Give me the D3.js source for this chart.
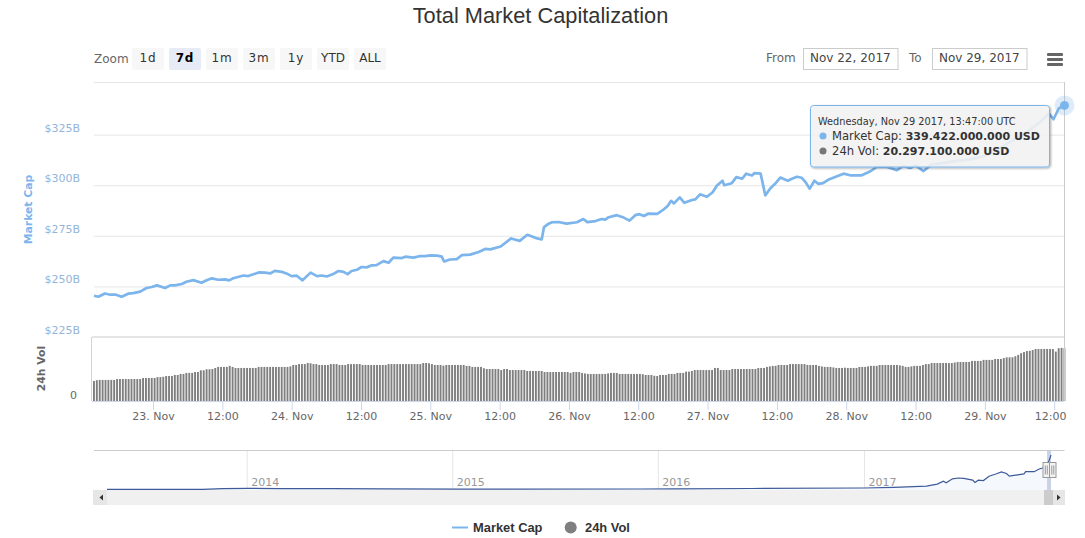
<!DOCTYPE html>
<html>
<head>
<meta charset="utf-8">
<script src="https://cdn.jsdelivr.net/npm/d3@7"></script>
<style>
  body { margin: 0; background: #fff; }
  svg { display: block; }
  text { font-family: "DejaVu Sans", sans-serif; }
</style>
</head>
<body>
<div id="chart"></div>
<script>
// Market cap: hours after the first point, value in $B
const capHours = [
  0, 0.75, 1.9, 2.8, 3.8, 4.8, 5.9, 6.8, 8, 9.1, 10, 10.9, 12.3, 13.2, 14, 15.2, 16, 17.2, 18.6, 19.5,
  20.4, 21.5, 22.7, 23.4, 24.1, 25.9, 26.7, 28.5, 29.6, 30.5, 31.3, 32.5, 33.4, 34.2, 35.1, 36.1, 37.5, 38.6, 39.4, 40.3,
  41.4, 42.3, 43.2, 43.9, 44.6, 45.5, 46.3, 47.2, 48.1, 48.9, 50.1, 51, 51.8, 53.3, 53.9, 55.3, 56.5, 57.3, 58.2, 59.4,
  60.2, 60.6, 61.6, 62.8, 63.7, 65.1, 66.6, 67.7, 68.6, 70.4, 72.2, 73.7, 75, 76.4, 77.5, 77.9, 78.7, 79.3, 80.4, 81.8,
  83.6, 84.7, 85.4, 86.8, 87.9, 88.5, 89.1, 90.5, 91.7, 92.7, 93.7, 94.4, 95.2, 96, 97.5, 98.6, 99.3, 99.9, 100.4, 101.4,
  102.2, 103.5, 104.1, 104.9, 106.1, 107.1, 107.8, 108.8, 109.1, 110.4, 111.2, 112.2, 112.9, 113.9, 114.3, 115.4, 116.2, 117.1, 117.9, 118.8,
  120.1, 120.8, 121.7, 122.5, 123.1, 123.9, 124.7, 125.4, 126.2, 127.3, 129.75, 130.9, 132.9, 134.4, 135.5, 137.3, 139, 140.1, 141.3, 142.2,
  143.6, 145, 147.1, 149.4, 151.7, 154, 156.3, 158.6, 161.5, 163.8, 165.3, 166.1, 167, 168
];
const capValues = [
  245.4, 244.9, 246.5, 245.9, 245.9, 244.9, 246.4, 246.7, 247.4, 249.2, 249.7, 250.5, 249.2, 250.5, 250.5, 251.2, 252.3, 253.1, 251.8, 253,
  254, 253.3, 253.5, 253, 254, 255.4, 255.1, 256.9, 256.8, 256.4, 257.7, 257.2, 256.3, 255.1, 255.3, 253, 256.8, 255.1, 255.4, 254.9,
  256.1, 257.6, 257.2, 256.1, 257.6, 258.2, 259.6, 259.4, 260.4, 260.5, 262.5, 261.7, 264.2, 264, 264.7, 264.2, 265, 265, 265.3, 265.2,
  264.7, 262.3, 263.3, 263.5, 265.5, 265.7, 267, 268.5, 268.3, 269.7, 273.7, 272.5, 275.5, 274, 273.2, 279.3, 281, 281.7, 281.8, 281,
  281.7, 283.3, 281.8, 282.3, 283.3, 283, 284.2, 285.2, 284, 282.5, 285.2, 285.7, 284.8, 286, 285.8, 288, 289.7, 292.3, 291, 294,
  291.3, 292.7, 293, 295.5, 294.3, 296.5, 299.7, 302.2, 300, 301, 304, 303.2, 305.7, 304.8, 306, 305.7, 295, 298.5, 300.7, 303.8,
  302.2, 303.2, 304.2, 303.7, 301.8, 298.3, 302.2, 300.7, 301, 303, 305.7, 304.9, 304.9, 306.9, 309, 309, 307.4, 309.5, 308.5, 309.8,
  307, 310.2, 311, 312, 312.8, 314.3, 317.3, 321.4, 326.3, 331.3, 335.4, 332.6, 337.9, 339.422
];

// 24h volume in $B, one bar every 30 minutes
const volValues = [
  7.7, 8, 8.1, 8.1, 8.1, 8.1, 8.1, 8.1, 8.45, 8.45,
  8.45, 8.45, 8.45, 8.45, 8.45, 8.45, 8.45, 8.85, 8.85, 8.85,
  8.85, 8.85, 9.2, 9.2, 9.3, 9.6, 9.6, 9.6, 10, 10,
  10.4, 10.4, 10.8, 10.8, 10.8, 11.15, 11.15, 11.8, 11.8, 12.2,
  12.2, 12.3, 12.7, 13.1, 13.1, 13.1, 13.1, 13.5, 13.1, 12.7,
  12.7, 12.7, 12.7, 12.7, 12.7, 12.7, 12.7, 13.1, 13.1, 13.1,
  13.1, 13.1, 13.1, 13.1, 13.1, 13.1, 13.1, 13.1, 13.3, 13.85,
  13.85, 14.2, 14.2, 14.2, 14.6, 14.5, 14.2, 14.2, 13.85, 13.85,
  13.85, 13.85, 14.2, 14.2, 14.2, 13.85, 13.85, 13.85, 14.2, 14.2,
  14.2, 14.2, 14.2, 13.85, 13.85, 13.85, 13.85, 13.85, 13.85, 13.85,
  13.85, 13.85, 14.2, 14.2, 14.2, 14.2, 14.2, 14.2, 14.2, 14.2,
  14.2, 14.2, 14.2, 14.2, 14.6, 14.6, 14.5, 14.2, 13.85, 13.85,
  13.85, 13.6, 13.85, 13.85, 13.85, 13.85, 13.85, 13.85, 13.85, 13.5,
  13.5, 13.1, 13.1, 13.1, 13.1, 12.6, 12.3, 12.3, 12.3, 12.3,
  12.3, 11.9, 12.3, 12.3, 11.9, 11.9, 11.9, 11.9, 11.9, 11.9,
  11.55, 11.55, 11.55, 11.55, 11.55, 11.55, 11.15, 11.15, 11.15, 11.15,
  11.15, 11.15, 11.15, 11.15, 11.15, 10.8, 11.15, 11.15, 11.15, 10.8,
  10.6, 10.4, 10.4, 10.4, 10.4, 10.4, 10.4, 10.4, 10.6, 10.8,
  10.8, 10.8, 10.4, 10.4, 10.4, 10.4, 10.4, 10.4, 10.4, 10.4,
  10.3, 10, 10, 10, 9.7, 9.6, 10, 10, 10, 10.4,
  10.4, 10.4, 10.8, 10.8, 10.8, 11.3, 11.3, 11.55, 11.9, 11.9,
  11.9, 11.9, 11.9, 11.9, 11.9, 12.7, 12.7, 11.9, 11.9, 11.9,
  11.9, 12.3, 12.3, 12.3, 12.3, 12.3, 12.3, 12.3, 12.3, 12.3,
  12.7, 12.7, 12.7, 13.1, 13.3, 13.5, 13.5, 13.85, 13.85, 13.85,
  13.85, 14.2, 14.2, 14.2, 14.2, 14.2, 14.2, 13.85, 13.85, 13.85,
  13.85, 13.5, 13.3, 13.1, 13.1, 13.1, 12.9, 12.7, 12.7, 12.7,
  12.8, 12.7, 12.7, 12.7, 12.7, 13.1, 13.1, 13.1, 13.3, 13.5,
  13.5, 13.5, 13.85, 13.85, 13.85, 13.85, 13.85, 13.85, 13.85, 13.7,
  13.5, 13.1, 13.1, 13.3, 13.5, 13.5, 13.5, 13.85, 14.2, 14.2,
  14.6, 14.6, 14.6, 14.6, 14.6, 14.6, 14.6, 14.6, 14.8, 15,
  15, 15, 15, 15, 15.4, 15.4, 15.4, 15.4, 15.8, 15.8,
  15.8, 15.8, 16.15, 16.15, 16.15, 16.5, 16.8, 16.8, 16.8, 17.2,
  17.7, 18.4, 18.8, 19.2, 19.3, 19.6, 20, 20, 20, 20,
  20, 20, 20, 19, 20.3, 20.4, 20.297
];

// Navigator line: whole history, value in $B
const navDates = [
  '2013-04-28', '2013-10-15', '2013-11-20', '2014-01-05', '2014-03-01', '2014-06-01', '2014-09-01', '2015-01-15', '2015-12-01', '2016-02-01',
  '2016-06-15', '2017-01-01', '2017-02-23', '2017-04-22', '2017-05-11', '2017-05-22', '2017-05-27', '2017-06-07', '2017-06-18', '2017-06-27',
  '2017-07-13', '2017-07-17', '2017-07-23', '2017-08-01', '2017-08-11', '2017-08-23', '2017-09-02', '2017-09-11', '2017-09-16', '2017-09-24',
  '2017-10-12', '2017-10-15', '2017-10-30', '2017-11-08', '2017-11-14', '2017-11-22', '2017-11-26', '2017-11-29'
];
const navValues = [
  1.5, 2, 9, 11, 9, 8, 6, 4, 5, 7,
  10, 15, 21, 34, 53, 82, 66, 105, 113, 110,
  92, 70, 92, 88, 131, 153, 173, 157, 131, 139,
  153, 176, 175, 202, 212, 245, 290, 339.4
];

const yearTicks = ['2014-01-01', '2015-01-01', '2016-01-01', '2017-01-01'];
const capTicks = [225, 250, 275, 300, 325];
const zoomLabels = ['1d', '7d', '1m', '3m', '1y', 'YTD', 'ALL'];
const tooltipDate = 'Wednesday, Nov 29 2017, 13:47:00 UTC';
const tooltipCap = '339.422.000.000 USD';
const tooltipVol = '20.297.100.000 USD';

const startTime = Date.UTC(2017, 10, 22, 13, 47);
const HOUR = 3600000;
const parseDay = d3.utcParse('%Y-%m-%d');

const svg = d3
  .select('#chart')
  .append('svg')
  .attr('width', 1085)
  .attr('height', 538);

// Scales
const x = d3.scaleUtc().domain([startTime, startTime + 168 * HOUR]).range([94, 1064.5]);
const yCap = d3.scaleLinear().domain([225, 351]).range([337, 82]);
const yVol = d3.scaleLinear().domain([0, 24.6]).range([401, 337]);
const xNav = d3.scaleUtc().domain([parseDay('2013-04-28'), parseDay('2017-11-29')]).range([107, 1051]);
const yNav = d3.scaleLinear().domain([0, 339.4]).range([489.5, 455]);

// Title
svg
  .append('text')
  .attr('x', 540.5)
  .attr('y', 23)
  .attr('text-anchor', 'middle')
  .style('font-family', '"Liberation Sans", sans-serif')
  .style('font-size', '21.8px')
  .style('fill', '#333')
  .text('Total Market Capitalization');

// Range selector
svg.append('text').attr('x', 94).attr('y', 63).style('font-size', '12px').style('fill', '#666').text('Zoom');
const zoomBtn = d3.scaleBand().domain(zoomLabels).range([132, 391]).paddingInner(0);
const btn = svg
  .selectAll('.zoom-btn')
  .data(zoomLabels)
  .enter()
  .append('g')
  .attr('class', 'zoom-btn')
  .attr('transform', (d) => `translate(${zoomBtn(d)}, 48)`);
btn
  .append('rect')
  .attr('width', 32)
  .attr('height', 22)
  .attr('rx', 2)
  .attr('fill', (d) => (d === '7d' ? '#e6ebf5' : '#f7f7f7'));
btn
  .append('text')
  .attr('x', 16)
  .attr('y', 14)
  .attr('text-anchor', 'middle')
  .style('font-size', '12px')
  .style('letter-spacing', (d) => (d.length === 2 ? '0.8px' : '0'))
  .style('font-weight', (d) => (d === '7d' ? 'bold' : 'normal'))
  .style('fill', (d) => (d === '7d' ? '#000' : '#333'))
  .text((d) => d);

// Date inputs
const inputs = [
  { label: 'From', lx: 766, bx: 803, text: 'Nov 22, 2017' },
  { label: 'To', lx: 909, bx: 932, text: 'Nov 29, 2017' },
];
inputs.forEach((d) => {
  svg.append('text').attr('x', d.lx).attr('y', 62).style('font-size', '12px').style('fill', '#666').text(d.label);
  svg
    .append('rect')
    .attr('x', d.bx + 0.5)
    .attr('y', 48.5)
    .attr('width', 94.5)
    .attr('height', 21)
    .attr('fill', '#fff')
    .attr('stroke', '#ccc');
  svg.append('text').attr('x', d.bx + 7).attr('y', 62).style('font-size', '12px').style('fill', '#444').text(d.text);
});

// Hamburger menu
[54.5, 59.5, 64.5].forEach((y) => {
  svg.append('rect').attr('x', 1047).attr('y', y - 1.5).attr('width', 16).attr('height', 3).attr('rx', 1).attr('fill', '#666');
});

// Market cap gridlines and labels
svg.append('line').attr('x1', 94).attr('x2', 1064.5).attr('y1', 82.5).attr('y2', 82.5).attr('stroke', '#e6e6e6');
const capAxis = svg
  .append('g')
  .attr('transform', 'translate(94, 0)')
  .call(d3.axisLeft(yCap).tickValues(capTicks).tickSize(-970.5).tickPadding(14).tickFormat((d) => `$${d}B`));
capAxis.select('.domain').remove();
capAxis.selectAll('line').attr('stroke', (d) => (d === 225 ? 'none' : '#e6e6e6'));
capAxis
  .selectAll('text')
  .attr('dy', '-3.5')
  .style('font-family', '"DejaVu Sans", sans-serif')
  .style('font-size', '11px')
  .style('fill', '#94b4da');

svg
  .append('text')
  .attr('transform', 'translate(32, 209.5) rotate(-90)')
  .attr('text-anchor', 'middle')
  .style('font-size', '10.8px')
  .style('font-weight', 'bold')
  .style('fill', '#7cb5ec')
  .text('Market Cap');

svg
  .append('text')
  .attr('transform', 'translate(44.5, 368.5) rotate(-90)')
  .attr('text-anchor', 'middle')
  .style('font-size', '10.8px')
  .style('font-weight', 'bold')
  .style('fill', '#666')
  .text('24h Vol');

// Volume panel
svg.append('line').attr('x1', 91.5).attr('x2', 91.5).attr('y1', 337).attr('y2', 401).attr('stroke', '#ccd6eb');
svg.append('line').attr('x1', 92).attr('x2', 1064.5).attr('y1', 337).attr('y2', 337).attr('stroke', '#ddd').attr('stroke-width', 1.5);

svg
  .selectAll('.vol')
  .data(volValues)
  .enter()
  .append('rect')
  .attr('class', 'vol')
  .attr('x', (d, i) => x(startTime + i * 0.5 * HOUR) - 1)
  .attr('y', (d) => yVol(d))
  .attr('width', 1.9)
  .attr('height', (d) => yVol(0) - yVol(d))
  .attr('fill', '#7f7f7f');

const volAxis = svg
  .append('g')
  .attr('transform', 'translate(80, 0)')
  .call(d3.axisLeft(yVol).tickValues([0]).tickSize(0).tickPadding(3));
volAxis.select('.domain').remove();
volAxis
  .selectAll('text')
  .attr('dy', '-3')
  .style('font-family', '"DejaVu Sans", sans-serif')
  .style('font-size', '11px')
  .style('fill', '#666');

// Time axis
const hours = [
  Date.UTC(2017, 10, 23), Date.UTC(2017, 10, 23, 12), Date.UTC(2017, 10, 24), Date.UTC(2017, 10, 24, 12),
  Date.UTC(2017, 10, 25), Date.UTC(2017, 10, 25, 12), Date.UTC(2017, 10, 26), Date.UTC(2017, 10, 26, 12),
  Date.UTC(2017, 10, 27), Date.UTC(2017, 10, 27, 12), Date.UTC(2017, 10, 28), Date.UTC(2017, 10, 28, 12),
  Date.UTC(2017, 10, 29), Date.UTC(2017, 10, 29, 12),
];
const xAxis = svg
  .append('g')
  .attr('transform', 'translate(0, 401)')
  .call(
    d3
      .axisBottom(x)
      .tickValues(hours.map((d) => new Date(d)))
      .tickSize(9)
      .tickPadding(2)
      .tickFormat((d) => (d.getUTCHours() === 12 ? '12:00' : d3.utcFormat('%-d. %b')(d)))
  );
xAxis.select('.domain').attr('stroke', '#ccd6eb').attr('d', 'M92,0.5H1064.5');
xAxis.selectAll('line').attr('stroke', '#ccd6eb');
xAxis
  .selectAll('text')
  .attr('dx', (d, i) => (i === hours.length - 1 ? -4 : 0))
  .style('font-family', '"DejaVu Sans", sans-serif')
  .style('font-size', '11px')
  .style('fill', '#666');

// Crosshair
svg.append('line').attr('x1', 1064.5).attr('x2', 1064.5).attr('y1', 82).attr('y2', 401).attr('stroke', '#ccc');

// Market cap line
const capLine = d3
  .line()
  .x((d, i) => x(startTime + capHours[i] * HOUR))
  .y((d) => yCap(d));
svg
  .append('path')
  .datum(capValues)
  .attr('d', capLine)
  .attr('fill', 'none')
  .attr('stroke', '#7cb5ec')
  .attr('stroke-width', 2.7)
  .attr('stroke-linejoin', 'round');

const lastX = x(startTime + capHours[capHours.length - 1] * HOUR);
const lastY = yCap(capValues[capValues.length - 1]);
svg.append('circle').attr('cx', lastX).attr('cy', lastY).attr('r', 10).attr('fill', '#7cb5ec').attr('opacity', 0.25);
svg.append('circle').attr('cx', lastX).attr('cy', lastY).attr('r', 4.5).attr('fill', '#7cb5ec');

// Navigator
const navAxis = svg
  .append('g')
  .attr('transform', 'translate(0, 450)')
  .call(
    d3
      .axisBottom(xNav)
      .tickValues(yearTicks.map(parseDay))
      .tickSize(40)
      .tickFormat(d3.utcFormat('%Y'))
  );
navAxis.select('.domain').remove();
navAxis.selectAll('line').attr('stroke', '#e6e6e6');
navAxis
  .selectAll('text')
  .attr('text-anchor', 'start')
  .attr('x', 4)
  .attr('y', 35.5)
  .attr('dy', 0)
  .style('font-family', '"DejaVu Sans", sans-serif')
  .style('font-size', '11px')
  .style('fill', '#999');
svg.append('line').attr('x1', 94).attr('x2', 1064.5).attr('y1', 450.5).attr('y2', 450.5).attr('stroke', '#ccc');

const navDays = navDates.map(parseDay);
svg
  .append('path')
  .datum(navValues)
  .attr(
    'd',
    d3
      .area()
      .x((d, i) => xNav(navDays[i]))
      .y0(490)
      .y1((d) => yNav(d))
  )
  .attr('fill', '#f5f8fc');

// Scrollbar
svg.append('rect').attr('x', 93).attr('y', 490).attr('width', 972).attr('height', 15).attr('fill', '#f0f0f0');
svg
  .append('rect')
  .attr('x', xNav(parseDay('2017-11-22')))
  .attr('y', 451)
  .attr('width', xNav(parseDay('2017-11-29')) - xNav(parseDay('2017-11-22')))
  .attr('height', 39)
  .attr('fill', '#c9d2e6');
svg.append('rect').attr('x', 1044).attr('y', 490).attr('width', 9).attr('height', 15).attr('fill', '#ccc');
[
  { bx: 93, path: 'M103,494.5L99.5,497.5L103,500.5Z' },
  { bx: 1053, path: 'M1057,494.5L1060.5,497.5L1057,500.5Z' },
].forEach((d) => {
  svg.append('rect').attr('x', d.bx).attr('y', 490).attr('width', d.bx === 93 ? 14 : 12).attr('height', 15).attr('fill', '#e6e6e6');
  svg.append('path').attr('d', d.path).attr('fill', '#333');
});

svg
  .append('path')
  .datum(navValues)
  .attr(
    'd',
    d3
      .line()
      .x((d, i) => xNav(navDays[i]))
      .y((d) => yNav(d))
  )
  .attr('fill', 'none')
  .attr('stroke', '#3d5a9a')
  .attr('stroke-width', 1.2);

// Navigator handles
[1043, 1049.5].forEach((hx) => {
  svg
    .append('rect')
    .attr('x', hx)
    .attr('y', 462.5)
    .attr('width', 6.5)
    .attr('height', 15)
    .attr('fill', '#f2f2f2')
    .attr('stroke', '#999');
  [hx + 2.3, hx + 4.3].forEach((lx) => {
    svg.append('line').attr('x1', lx).attr('x2', lx).attr('y1', 465.5).attr('y2', 474.5).attr('stroke', '#999');
  });
});

// Tooltip
const shadow = svg.append('defs').append('filter').attr('id', 'tip-shadow').attr('x', '-5%').attr('y', '-10%').attr('width', '110%').attr('height', '125%');
shadow.append('feDropShadow').attr('dx', 1).attr('dy', 1).attr('stdDeviation', 1.2).attr('flood-color', '#000').attr('flood-opacity', 0.35);
svg
  .append('rect')
  .attr('x', 810.5)
  .attr('y', 105.5)
  .attr('width', 239)
  .attr('height', 61.5)
  .attr('rx', 3)
  .attr('fill', 'rgba(247,247,247,0.85)')
  .attr('stroke', '#7cb5ec')
  .attr('filter', 'url(#tip-shadow)');
svg.append('text').attr('x', 818).attr('y', 125).style('font-size', '9.75px').style('fill', '#333').text(tooltipDate);
const tipRows = [
  { y: 140, color: '#7cb5ec', label: 'Market Cap: ', value: tooltipCap },
  { y: 155, color: '#777', label: '24h Vol: ', value: tooltipVol },
];
tipRows.forEach((d) => {
  svg.append('circle').attr('cx', 823).attr('cy', d.y - 4).attr('r', 3.5).attr('fill', d.color);
  const row = svg.append('text').attr('x', 832).attr('y', d.y).style('font-size', '11.6px').style('fill', '#333');
  row.append('tspan').text(d.label);
  row.append('tspan').style('font-weight', 'bold').style('font-size', '11px').text(d.value);
});

// Legend
svg.append('line').attr('x1', 452).attr('x2', 468).attr('y1', 527.5).attr('y2', 527.5).attr('stroke', '#7cb5ec').attr('stroke-width', 2);
svg.append('circle').attr('cx', 570.7).attr('cy', 527.5).attr('r', 6).attr('fill', '#7f7f7f');
[
  { lx: 473, text: 'Market Cap' },
  { lx: 585, text: '24h Vol' },
].forEach((d) => {
  svg
    .append('text')
    .attr('x', d.lx)
    .attr('y', 532)
    .style('font-family', '"Liberation Sans", sans-serif')
    .style('font-size', '12.9px')
    .style('font-weight', 'bold')
    .style('fill', '#333')
    .text(d.text);
});
</script>
</body>
</html>
